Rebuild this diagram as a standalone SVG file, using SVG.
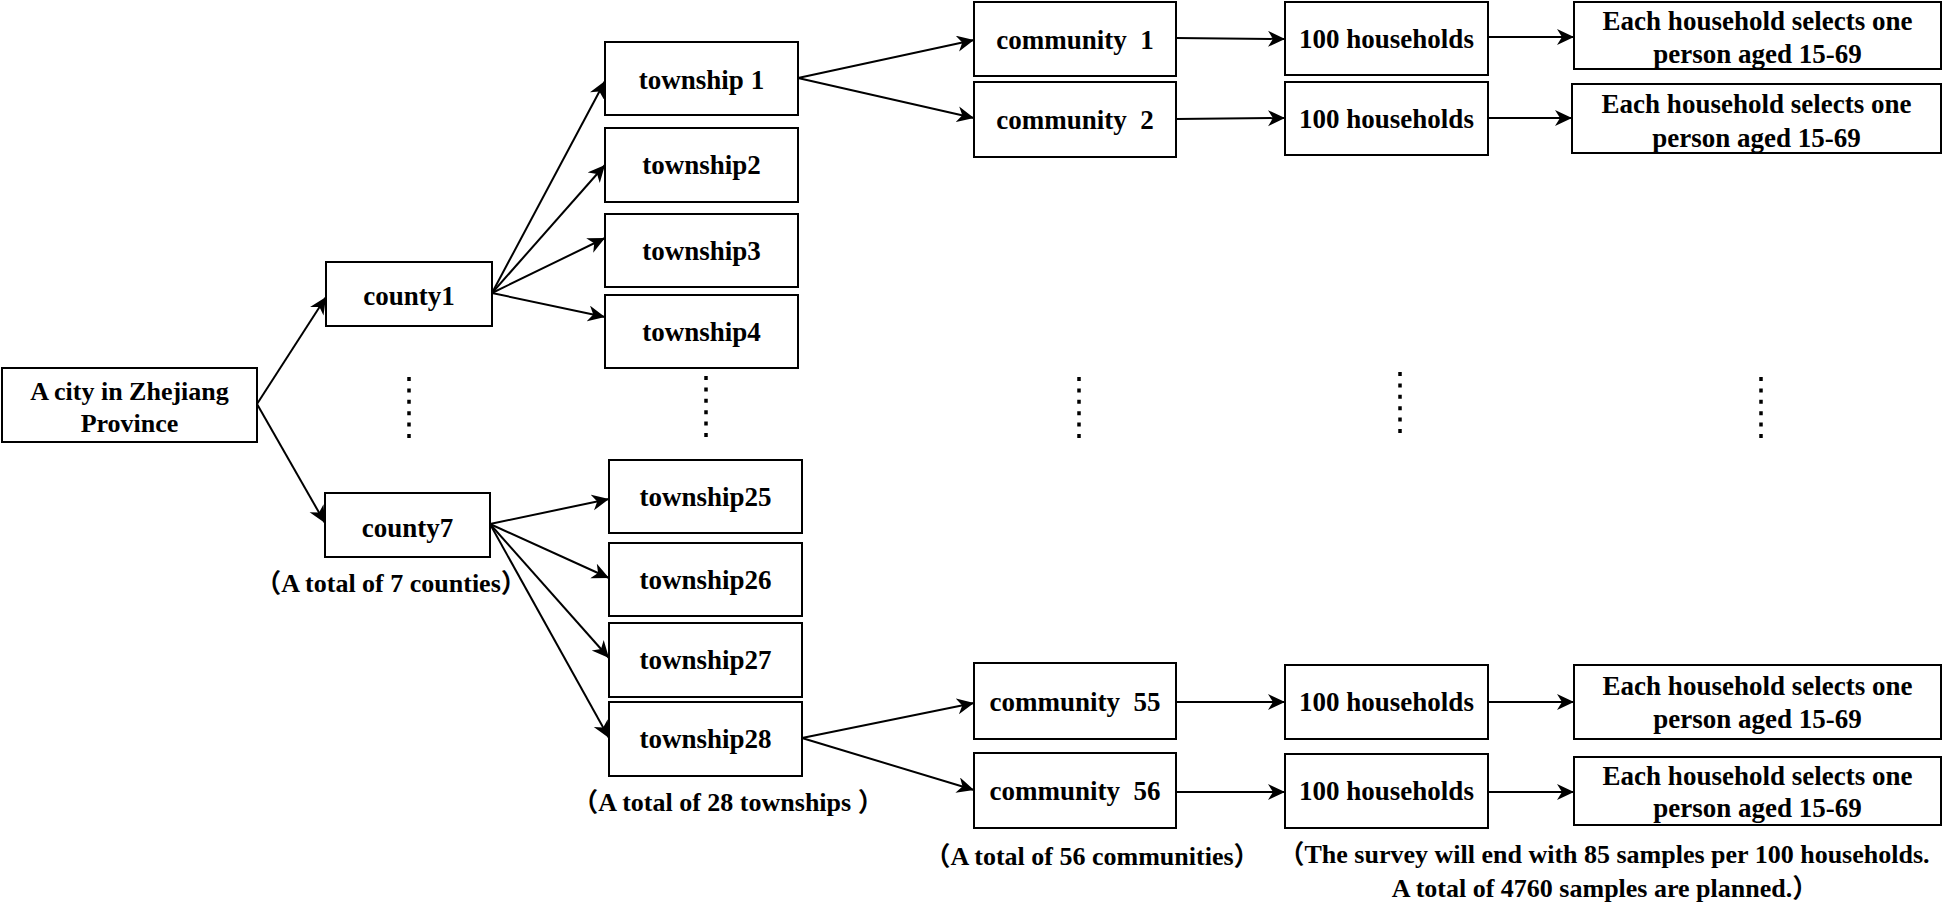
<svg xmlns="http://www.w3.org/2000/svg" width="1943" height="906" viewBox="0 0 1943 906">
<style>
.box{fill:#fff;stroke:#000;stroke-width:2}
.t{font-family:"Liberation Serif","Times New Roman",serif;font-weight:bold;font-size:27px;fill:#000;text-anchor:middle}
.lbl{font-family:"Liberation Serif","Times New Roman","Noto Sans CJK SC",serif;font-weight:bold;font-size:26px;fill:#000;text-anchor:middle}
.c{fill:none;stroke:#000;stroke-width:2}
.dots{stroke:#000;stroke-width:3.5;stroke-dasharray:4 7.4;fill:none}
</style>
<defs>
<marker id="arr" markerUnits="userSpaceOnUse" markerWidth="18" markerHeight="17" refX="17" refY="8" orient="auto">
<path d="M0,0 L17,8 L0,16 L5,8 Z" fill="#000"/>
</marker>
</defs>

<g id="connectors">
<line class="c" x1="257" y1="404" x2="326" y2="297" marker-end="url(#arr)"/>
<line class="c" x1="257" y1="404" x2="325" y2="523" marker-end="url(#arr)"/>
<line class="c" x1="492" y1="293" x2="605" y2="81" marker-end="url(#arr)"/>
<line class="c" x1="492" y1="293" x2="605" y2="165" marker-end="url(#arr)"/>
<line class="c" x1="492" y1="293" x2="605" y2="238" marker-end="url(#arr)"/>
<line class="c" x1="492" y1="293" x2="605" y2="317" marker-end="url(#arr)"/>
<line class="c" x1="490" y1="524" x2="609" y2="499" marker-end="url(#arr)"/>
<line class="c" x1="490" y1="524" x2="609" y2="578" marker-end="url(#arr)"/>
<line class="c" x1="490" y1="524" x2="609" y2="658" marker-end="url(#arr)"/>
<line class="c" x1="490" y1="524" x2="609" y2="738" marker-end="url(#arr)"/>
<line class="c" x1="798" y1="78" x2="974" y2="40" marker-end="url(#arr)"/>
<line class="c" x1="798" y1="78" x2="974" y2="118" marker-end="url(#arr)"/>
<line class="c" x1="802" y1="738" x2="974" y2="703" marker-end="url(#arr)"/>
<line class="c" x1="802" y1="738" x2="974" y2="790" marker-end="url(#arr)"/>
<line class="c" x1="1176" y1="38" x2="1285" y2="39" marker-end="url(#arr)"/>
<line class="c" x1="1176" y1="119" x2="1285" y2="118" marker-end="url(#arr)"/>
<line class="c" x1="1176" y1="702" x2="1285" y2="702" marker-end="url(#arr)"/>
<line class="c" x1="1176" y1="792" x2="1285" y2="792" marker-end="url(#arr)"/>
<line class="c" x1="1488" y1="37" x2="1574" y2="37" marker-end="url(#arr)"/>
<line class="c" x1="1488" y1="118" x2="1572" y2="118" marker-end="url(#arr)"/>
<line class="c" x1="1488" y1="702" x2="1574" y2="702" marker-end="url(#arr)"/>
<line class="c" x1="1488" y1="792" x2="1574" y2="792" marker-end="url(#arr)"/>
</g>

<g id="ellipses">
<line class="dots" x1="409" y1="377" x2="409" y2="439"/>
<line class="dots" x1="706" y1="376" x2="706" y2="438"/>
<line class="dots" x1="1079" y1="377" x2="1079" y2="439"/>
<line class="dots" x1="1400" y1="372" x2="1400" y2="434"/>
<line class="dots" x1="1761" y1="377" x2="1761" y2="439"/>
</g>

<g id="city"><rect class="box" x="2" y="368" width="255" height="74"/>
<text class="t" style="font-size:26px" x="129.5" y="400">A city in Zhejiang</text>
<text class="t" style="font-size:26px" x="129.5" y="432">Province</text></g>

<g id="county1"><rect class="box" x="326" y="262" width="166" height="64"/><text class="t" x="409" y="305">county1</text></g>
<g id="county7"><rect class="box" x="325" y="493" width="165" height="64"/><text class="t" x="407.5" y="537">county7</text></g>
<text id="lbl-counties" class="lbl" x="391" y="592">（A total of 7 counties）</text>

<g id="township1"><rect class="box" x="605" y="42" width="193" height="73"/><text class="t" x="701.5" y="89">township 1</text></g>
<g id="township2"><rect class="box" x="605" y="128" width="193" height="74"/><text class="t" x="701.5" y="174">township2</text></g>
<g id="township3"><rect class="box" x="605" y="214" width="193" height="73"/><text class="t" x="701.5" y="260">township3</text></g>
<g id="township4"><rect class="box" x="605" y="295" width="193" height="73"/><text class="t" x="701.5" y="341">township4</text></g>
<g id="township25"><rect class="box" x="609" y="460" width="193" height="73"/><text class="t" x="705.5" y="506">township25</text></g>
<g id="township26"><rect class="box" x="609" y="543" width="193" height="73"/><text class="t" x="705.5" y="589">township26</text></g>
<g id="township27"><rect class="box" x="609" y="623" width="193" height="74"/><text class="t" x="705.5" y="669">township27</text></g>
<g id="township28"><rect class="box" x="609" y="702" width="193" height="74"/><text class="t" x="705.5" y="748">township28</text></g>
<text id="lbl-townships" class="lbl" x="728" y="811">（A total of 28 townships ）</text>

<g id="community1"><rect class="box" x="974" y="2" width="202" height="74"/><text class="t" x="1075" y="49">community&#160; 1</text></g>
<g id="community2"><rect class="box" x="974" y="82" width="202" height="75"/><text class="t" x="1075" y="129">community&#160; 2</text></g>
<g id="community55"><rect class="box" x="974" y="663" width="202" height="76"/><text class="t" x="1075" y="711">community&#160; 55</text></g>
<g id="community56"><rect class="box" x="974" y="753" width="202" height="75"/><text class="t" x="1075" y="800">community&#160; 56</text></g>
<text id="lbl-communities" class="lbl" x="1092" y="865">（A total of 56 communities）</text>

<g id="households1"><rect class="box" x="1285" y="2" width="203" height="73"/><text class="t" x="1386.5" y="48">100 households</text></g>
<g id="households2"><rect class="box" x="1285" y="82" width="203" height="73"/><text class="t" x="1386.5" y="128">100 households</text></g>
<g id="households3"><rect class="box" x="1285" y="665" width="203" height="74"/><text class="t" x="1386.5" y="711">100 households</text></g>
<g id="households4"><rect class="box" x="1285" y="754" width="203" height="74"/><text class="t" x="1386.5" y="800">100 households</text></g>

<g id="person1"><rect class="box" x="1574" y="2" width="367" height="67"/><text class="t" x="1757.5" y="30">Each household selects one</text><text class="t" x="1757.5" y="63">person aged 15-69</text></g>
<g id="person2"><rect class="box" x="1572" y="84" width="369" height="69"/><text class="t" x="1756.5" y="113">Each household selects one</text><text class="t" x="1756.5" y="147">person aged 15-69</text></g>
<g id="person3"><rect class="box" x="1574" y="665" width="367" height="74"/><text class="t" x="1757.5" y="695">Each household selects one</text><text class="t" x="1757.5" y="728">person aged 15-69</text></g>
<g id="person4"><rect class="box" x="1574" y="757" width="367" height="68"/><text class="t" x="1757.5" y="785">Each household selects one</text><text class="t" x="1757.5" y="817">person aged 15-69</text></g>

<g id="lbl-survey">
<text class="lbl" x="1604" y="863">（The survey will end with 85 samples per 100 households.</text>
<text class="lbl" x="1605" y="897">A total of 4760 samples are planned.）</text>
</g>
</svg>
